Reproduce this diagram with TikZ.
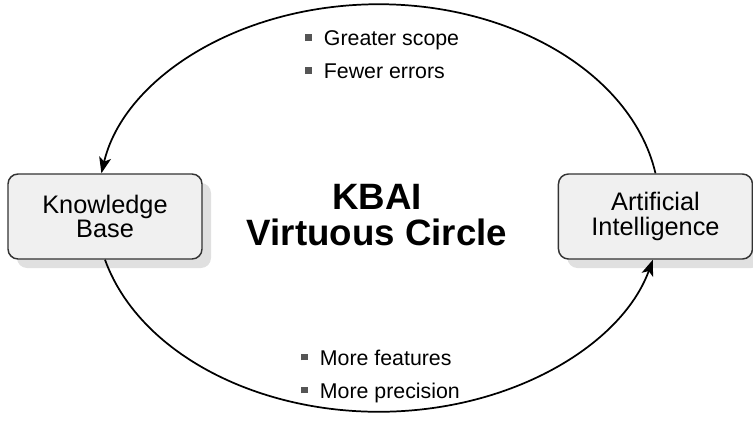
\documentclass[tikz,border=0pt]{standalone}
\usepackage{fontspec}
\setmainfont{Liberation Sans}
\usepackage{tikz}
\usetikzlibrary{positioning,shadows,arrows.meta}
\definecolor{boxfill}{HTML}{F0F0F0}
\definecolor{boxline}{HTML}{333333}
\definecolor{shadowgray}{HTML}{E0E0E0}
\definecolor{dotgray}{HTML}{555555}
\newcommand{\listdot}{\textcolor{dotgray}{\rule[0.22em]{5pt}{5pt}}\hspace{9pt}}
\tikzset{
 kbox/.style={draw=boxline, line width=1.1pt, fill=boxfill,
  rounded corners=7.5pt, minimum width=145.5pt, minimum height=63.75pt,
  align=center, font=\fontsize{19}{18.5}\selectfont,
  drop shadow={shadow xshift=6.75pt, shadow yshift=-6.75pt, fill=shadowgray, opacity=1}},
 bullets/.style={align=left, inner sep=0pt, font=\fontsize{16}{24.75}\selectfont},
 loopline/.style={line width=1.3pt, -{Stealth[length=12pt,width=9pt,inset=3pt]}}
}
\begin{document}
\begin{tikzpicture}[x=0.75pt,y=-0.75pt]
 \useasboundingbox (0,0) rectangle (753,421);

 % the two boxes
 \node[kbox] (KB) at (105,216.5) {Knowledge\\Base};
 \node[kbox,
  right=266.25pt of KB] (AI) % same row as Knowledge Base
 {Artificial\\Intelligence};

 % title in the middle
 \node[align=center,
  font=\bfseries\fontsize{27.5}{27.5}\selectfont] (Title) at (377,215)
 {KBAI\\Virtuous Circle};

 % bullet lists
 \node[bullets, anchor=west] (Gains) at (305,55)
 {\listdot Greater scope\\ \listdot Fewer errors};
 \node[bullets, anchor=west] (Feeds) at (301,376)
 {\listdot More features\\ \listdot More precision};

 % the loop
 \draw[loopline] (AI.north) arc[start angle=9.64, end angle=170.36, x radius=210.75pt, y radius=152.25pt];
 \draw[loopline] (KB.south) arc[start angle=194.55, end angle=345.45, x radius=212.25pt, y radius=152.25pt];
\end{tikzpicture}
\end{document}
